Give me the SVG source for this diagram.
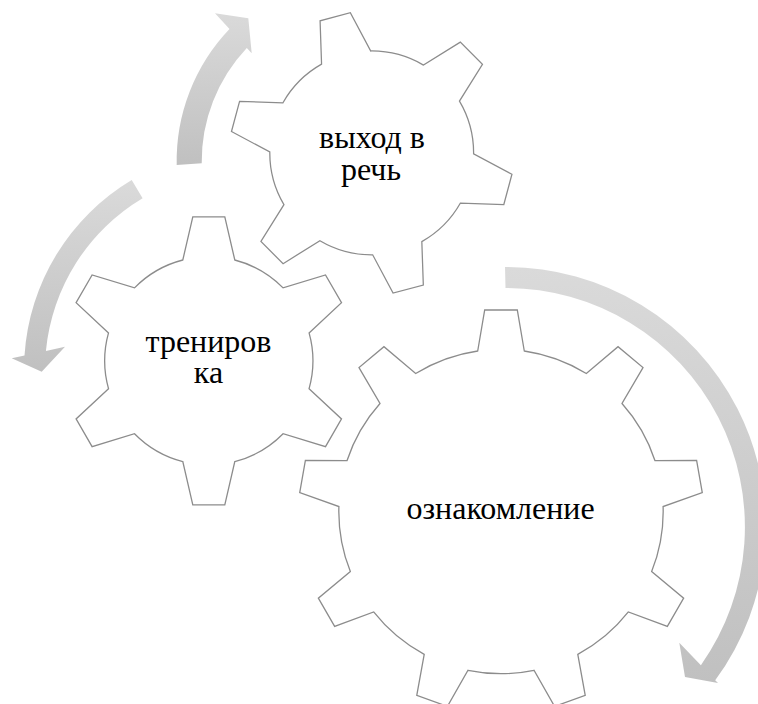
<svg xmlns="http://www.w3.org/2000/svg" width="758" height="704" viewBox="0 0 758 704">
  <defs>
    <linearGradient id="arrowFill" x1="0" y1="0" x2="0" y2="1">
      <stop offset="0" stop-color="#dadada"/>
      <stop offset="1" stop-color="#c0c0c0"/>
    </linearGradient>
    <!-- six-tooth gear, centred on the origin -->
    <path id="gear6" d="M-26,-100.8 L-16,-144 L16,-144 L26,-100.8 A104.1,104.1 0 0 1 74.29,-72.92 L116.71,-85.86 L132.71,-58.14 L100.29,-27.88 A104.1,104.1 0 0 1 100.29,27.88 L132.71,58.14 L116.71,85.86 L74.29,72.92 A104.1,104.1 0 0 1 26,100.8 L16,144 L-16,144 L-26,100.8 A104.1,104.1 0 0 1 -74.29,72.92 L-116.71,85.86 L-132.71,58.14 L-100.29,27.88 A104.1,104.1 0 0 1 -100.29,-27.88 L-132.71,-58.14 L-116.71,-85.86 L-74.29,-72.92 A104.1,104.1 0 0 1 -26,-100.8 Z"/>
    <!-- nine-tooth gear, centred on the origin -->
    <path id="gear9" d="M-23.3,-160.5 L-16.3,-201.5 L16.3,-201.5 L23.3,-160.5 A162.2,162.2 0 0 1 85.32,-137.93 L117.04,-164.83 L142.01,-143.88 L121.02,-107.97 A162.2,162.2 0 0 1 154.02,-50.82 L195.61,-51.04 L201.27,-18.94 L162.11,-4.93 A162.2,162.2 0 0 1 150.65,60.07 L182.66,86.63 L166.36,114.87 L127.35,100.43 A162.2,162.2 0 0 1 76.79,142.85 L84.23,183.77 L53.6,194.92 L33,158.79 A162.2,162.2 0 0 1 -33,158.79 L-53.6,194.92 L-84.23,183.77 L-76.79,142.85 A162.2,162.2 0 0 1 -127.35,100.43 L-166.36,114.87 L-182.66,86.63 L-150.65,60.07 A162.2,162.2 0 0 1 -162.11,-4.93 L-201.27,-18.94 L-195.61,-51.04 L-154.02,-50.82 A162.2,162.2 0 0 1 -121.02,-107.97 L-142.01,-143.88 L-117.04,-164.83 L-85.32,-137.93 A162.2,162.2 0 0 1 -23.3,-160.5 Z"/>
  </defs>
  <style>
    .gear { fill: #ffffff; stroke: #8c8c8c; stroke-width: 1.3; stroke-linejoin: miter; }
    .arrow { fill: url(#arrowFill); stroke: none; }
    .label { font-size: 32px; fill: #000000; text-anchor: middle; }
  </style>
  <rect width="758" height="704" fill="#ffffff"/>

  <g id="gear-large">
    <use href="#gear9" class="gear" transform="translate(501,511.5)"/>
    <text class="label" font-family="'Liberation Serif', 'Times New Roman', serif" x="500.5" y="519">ознакомление</text>
  </g>

  <g id="gear-medium">
    <use href="#gear6" class="gear" transform="translate(208.8,360.8)"/>
    <text class="label" font-family="'Liberation Serif', 'Times New Roman', serif" x="208.5" y="351.7">трениров<tspan x="208.5" dy="31.3">ка</tspan></text>
  </g>

  <g id="gear-small">
    <use href="#gear6" class="gear" vector-effect="non-scaling-stroke" transform="translate(371.7,152.9) rotate(-15) scale(0.979)"/>
    <text class="label" font-family="'Liberation Serif', 'Times New Roman', serif" x="372" y="148">выход в<tspan x="371" dy="32">речь</tspan></text>
  </g>

  <g id="connectors">
    <!-- clockwise arrow around the large gear -->
    <path class="arrow" d="M505,267 A259.4,259.4 0 0 1 715.2,680.2 L718,683 L685,677 L679.3,642.7 L700.9,665.2 A239,239 0 0 0 505.5,288 Z"/>
    <!-- counter-clockwise arrow beside the medium gear -->
    <path class="arrow" d="M131.7,180 A221,221 0 0 0 24.5,355.5 L11.7,358.3 L41.7,371.7 L65,346.7 L45.9,350.9 A200,200 0 0 1 142.6,198.2 Z"/>
    <!-- clockwise arrow beside the small gear -->
    <path class="arrow" d="M176.7,165 A191,191 0 0 1 229.5,29.1 L215,13.3 L248.3,18.3 L251.7,53.3 L246.8,48 A165.5,165.5 0 0 0 201.7,163.3 Z"/>
  </g>
</svg>
